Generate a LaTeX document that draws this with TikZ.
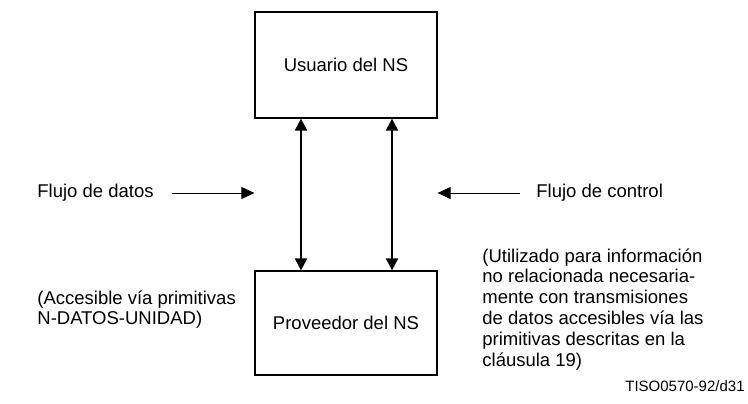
\documentclass[tikz,border=0pt]{standalone}
\usepackage{fontspec}
\setmainfont{Liberation Sans}
\usetikzlibrary{arrows.meta}

\tikzset{
    box/.style={rectangle, draw, line width=0.6pt, minimum width=91pt, minimum height=53pt, inner sep=0pt},
    txt/.style={inner sep=0pt, align=left, font=\fontsize{9.25}{10.4}\selectfont},
    flow/.style={-{Triangle[length=6.5pt,width=6pt]}, line width=0.5pt},
    link/.style={{Triangle[length=6pt,width=6pt]}-{Triangle[length=6pt,width=6pt]}, line width=1pt}
}

\begin{document}
\begin{tikzpicture}[x=0.5pt,y=-0.5pt]
    \useasboundingbox (0,0) rectangle (748,403);
    \draw (346,65) node[box,txt] (user) {Usuario del NS};
    \draw (346,323) node[box,txt,minimum height=52pt] (prov) {Proveedor del NS};

    \foreach \col in {301,392}{
        \draw[link] (\col,0 |- prov.north) -- (\col,0 |- user.south);
    }

    \draw (37,193) node[txt,anchor=west] (datos) {Flujo de datos};
    \coordinate (datosa) at (172,193);
    \coordinate (datosb) at (user.west |- datosa);
    \draw[flow] (datosa) -- (datosb);

    \draw (536,193) node[txt,anchor=west] (control) {Flujo de control};
    \coordinate (controla) at (520,193);
    \coordinate (controlb) at (user.east |- controla);
    \draw[flow] (controla) -- (controlb);

    \draw (37,290) node[txt,anchor=north west] (accesible) {(Accesible vía primitivas\\N-DATOS-UNIDAD)};
    \draw (482,248) node[txt,anchor=north west] (utilizado) {(Utilizado para información\\no relacionada necesaria-\\mente con transmisiones\\de datos accesibles vía las\\primitivas descritas en la\\cláusula 19)};

    \draw (745,386) node[txt,anchor=east,font=\fontsize{7.5}{9}\selectfont] (ref) {TISO0570-92/d31};
\end{tikzpicture}
\end{document}
